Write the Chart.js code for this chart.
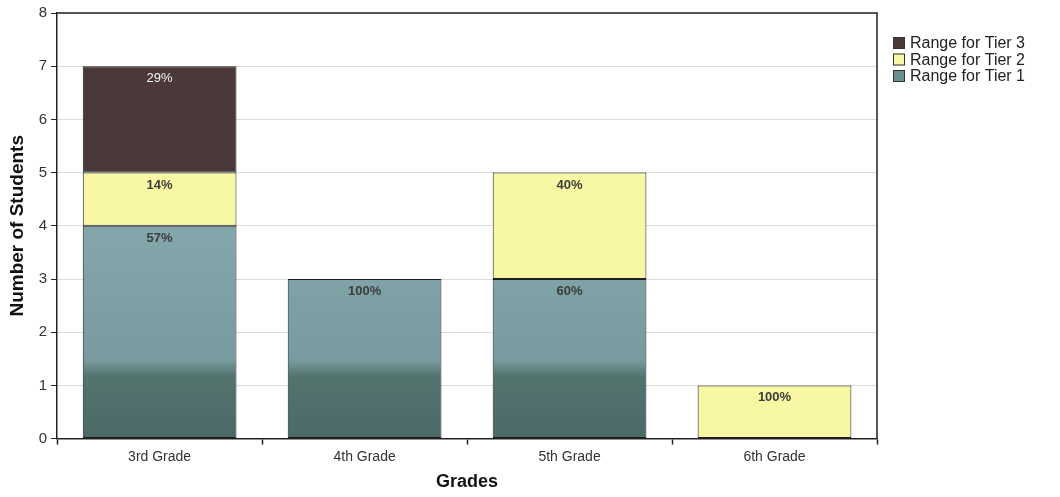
<!DOCTYPE html>
<html>
<head>
<meta charset="utf-8">
<script src="https://cdn.jsdelivr.net/npm/chart.js@4/dist/chart.umd.min.js"></script>
<style>
  html, body { margin: 0; padding: 0; background: #fff; }
  #wrap { width: 1060px; height: 497px; }
</style>
</head>
<body>
<div id="wrap"><canvas id="chart" width="1060" height="497"></canvas></div>
<script>
// ---------------------------------------------------------
// DATA
// ---------------------------------------------------------
const grades = ["3rd Grade", "4th Grade", "5th Grade", "6th Grade"];
const tier1 = [4, 3, 3, 0];
const tier2 = [1, 0, 2, 1];
const tier3 = [2, 0, 0, 0];
const yTicks = [0, 1, 2, 3, 4, 5, 6, 7, 8];

const FONT = "'Liberation Sans', Arial, sans-serif";
const TIER3_COLOR = "#4b3838";
const TIER2_COLOR = "#f8f8a4";
const TIER1_COLOR = "#7a9ea2";

// teal bars are darker near the bottom in the reference
function tier1Fill(ctx) {
  const chart = ctx.chart;
  const y = chart.scales.y;
  if (!y || !chart.chartArea) return TIER1_COLOR;
  const g = chart.ctx.createLinearGradient(0, y.getPixelForValue(0), 0, y.getPixelForValue(4));
  g.addColorStop(0, "#4b6a67");
  g.addColorStop(0.29, "#53736f");
  g.addColorStop(0.37, "#789b9f");
  g.addColorStop(1, "#83a7aa");
  return g;
}

// ---------------------------------------------------------
// PLUGINS
// ---------------------------------------------------------
const plotBorder = {
  id: "plotBorder",
  afterDraw(chart) {
    const { ctx, chartArea: a } = chart;
    ctx.save();
    ctx.strokeStyle = "#222";
    ctx.lineWidth = 1.5;
    ctx.beginPath();
    ctx.moveTo(a.left, a.top);
    ctx.lineTo(a.right, a.top);
    ctx.lineTo(a.right, a.bottom);
    ctx.stroke();
    ctx.restore();
  }
};

const percentLabels = {
  id: "percentLabels",
  afterDatasetsDraw(chart) {
    const { ctx } = chart;
    const totals = grades.map((_, i) =>
      chart.data.datasets.reduce((s, d) => s + d.data[i], 0));
    ctx.save();
    ctx.textAlign = "center";
    ctx.textBaseline = "top";
    chart.data.datasets.forEach((ds, di) => {
      const meta = chart.getDatasetMeta(di);
      meta.data.forEach((bar, i) => {
        const v = ds.data[i];
        if (!v) return;
        const pct = Math.round(v / totals[i] * 100) + "%";
        const light = ds.label === "Range for Tier 3";
        ctx.font = (light ? "" : "bold ") + "13px " + FONT;
        ctx.fillStyle = light ? "#f2f2f2" : "#3c3c3c";
        ctx.fillText(pct, bar.x, bar.y + 6);
      });
    });
    ctx.restore();
  }
};

const sideLegend = {
  id: "sideLegend",
  afterDraw(chart) {
    const { ctx } = chart;
    const items = chart.data.datasets.slice().reverse();
    ctx.save();
    ctx.font = "16px " + FONT;
    ctx.textBaseline = "middle";
    ctx.textAlign = "left";
    items.forEach((ds, k) => {
      const cy = 43 + k * 16.5;
      const fill = ds.label === "Range for Tier 1" ? "#6a8f90" : ds.backgroundColor;
      ctx.fillStyle = fill;
      ctx.fillRect(893, cy - 6, 12, 12);
      ctx.strokeStyle = "#333";
      ctx.lineWidth = 1;
      ctx.strokeRect(893.5, cy - 5.5, 11, 11);
      ctx.fillStyle = "#222";
      ctx.fillText(ds.label, 910, cy + 1);
    });
    ctx.restore();
  }
};

// ---------------------------------------------------------
// CHART
// ---------------------------------------------------------
new Chart(document.getElementById("chart"), {
  type: "bar",
  data: {
    labels: grades,
    datasets: [
      { label: "Range for Tier 1", data: tier1, backgroundColor: tier1Fill },
      { label: "Range for Tier 2", data: tier2, backgroundColor: TIER2_COLOR },
      { label: "Range for Tier 3", data: tier3, backgroundColor: TIER3_COLOR }
    ]
  },
  options: {
    responsive: false,
    animation: false,
    devicePixelRatio: 1,
    layout: { padding: { left: 6, right: 183, top: 1, bottom: 4 } },
    datasets: {
      bar: {
        borderColor: "#1e1e1e",
        borderWidth: 1,
        borderSkipped: false,
        categoryPercentage: 1,
        barPercentage: 0.75
      }
    },
    plugins: {
      legend: { display: false },
      tooltip: { enabled: false }
    },
    scales: {
      x: {
        stacked: true,
        grid: {
          offset: true,
          drawOnChartArea: false,
          drawTicks: true,
          tickLength: 6,
          tickColor: "#222",
          tickWidth: 1.5
        },
        border: { color: "#222", width: 1.5 },
        ticks: { color: "#333", font: { family: FONT, size: 14 }, padding: 4 },
        title: {
          display: true,
          text: "Grades",
          color: "#111",
          font: { family: FONT, size: 18, weight: "bold" },
          padding: { top: 2, bottom: 0 }
        }
      },
      y: {
        stacked: true,
        min: 0,
        max: 8,
        afterBuildTicks(axis) { axis.ticks = yTicks.map(v => ({ value: v })); },
        grid: {
          color: "#dcdcdc",
          lineWidth: 1,
          tickLength: 6,
          tickColor: "#222"
        },
        border: { color: "#222", width: 1.5 },
        ticks: { color: "#333", font: { family: FONT, size: 15 }, padding: 4 },
        title: {
          display: true,
          text: "Number of Students",
          color: "#111",
          font: { family: FONT, size: 19, weight: "bold" },
          padding: { top: 0, bottom: 6 }
        }
      }
    }
  },
  plugins: [plotBorder, percentLabels, sideLegend]
});
</script>
</body>
</html>
